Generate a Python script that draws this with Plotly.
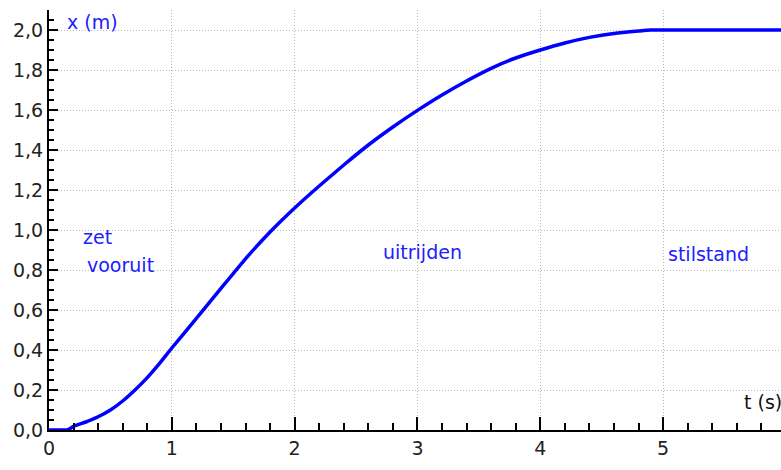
import plotly.graph_objects as go

# Data
t_values = [0, 0.1, 0.15, 0.2, 0.3, 0.4, 0.5, 0.6, 0.7, 0.8, 0.9, 1.0, 1.2, 1.4, 1.6, 1.8,
            2.0, 2.2, 2.4, 2.6, 2.8, 3.0, 3.2, 3.4, 3.6, 3.8, 4.0, 4.2, 4.4, 4.6, 4.8,
            4.9, 5.0, 5.5, 6.0]
x_values = [0, 0, 0, 0.018, 0.04, 0.066, 0.10, 0.145, 0.20, 0.262, 0.333, 0.41, 0.558, 0.708,
            0.856, 0.99, 1.11, 1.22, 1.325, 1.425, 1.515, 1.598, 1.675, 1.745, 1.808, 1.86,
            1.90, 1.935, 1.963, 1.983, 1.995, 2.0, 2.0, 2.0, 2.0]

y_tickvals = [0.0, 0.2, 0.4, 0.6, 0.8, 1.0, 1.2, 1.4, 1.6, 1.8, 2.0]
y_ticktext = ["0,0", "0,2", "0,4", "0,6", "0,8", "1,0", "1,2", "1,4", "1,6", "1,8", "2,0"]
x_tickvals = [0, 1, 2, 3, 4, 5]
x_ticktext = ["0", "1", "2", "3", "4", "5"]

labels = [
    ("x (m)", 0.13, 2.04, "#2020ff"),
    ("zet", 0.26, 0.965, "#2020ff"),
    ("vooruit", 0.293, 0.825, "#2020ff"),
    ("uitrijden", 2.70, 0.89, "#2020ff"),
    ("stilstand", 5.02, 0.88, "#2020ff"),
    ("t (s)", 5.64, 0.14, "#111111"),
]

FONT = "DejaVu Sans"

fig = go.Figure()
fig.add_trace(go.Scatter(
    x=t_values, y=x_values, mode="lines",
    line=dict(color="#0000ff", width=3.5, shape="spline", smoothing=0.5),
    hoverinfo="skip", showlegend=False,
))

for text, tx, ty, col in labels:
    fig.add_annotation(
        x=tx, y=ty, xref="x", yref="y", text=text, showarrow=False,
        xanchor="left", yanchor="middle",
        font=dict(family=FONT, size=19, color=col),
    )

fig.update_layout(
    width=781, height=470,
    margin=dict(l=49, r=0, t=10, b=40),
    paper_bgcolor="white", plot_bgcolor="white",
    showlegend=False,
    font=dict(family=FONT, size=19, color="#222222"),
)
GRID = dict(showgrid=True, gridcolor="#b8b8b8", gridwidth=1, griddash="1px,2px")
fig.update_xaxes(
    range=[0, 5.96], tickvals=x_tickvals, ticktext=x_ticktext, automargin=False,
    showline=True, linecolor="black", linewidth=2,
    ticks="inside", ticklen=13, tickwidth=2, tickcolor="black",
    zeroline=False,
    minor=dict(dtick=0.2, tick0=0, ticks="inside", ticklen=7, tickwidth=2,
               tickcolor="black", showgrid=False),
    tickfont=dict(family=FONT, size=19, color="#222222"),
    **GRID,
)
fig.update_yaxes(
    range=[0, 2.1], tickvals=y_tickvals, ticktext=y_ticktext, automargin=False,
    showline=True, linecolor="black", linewidth=2,
    ticks="inside", ticklen=9, tickwidth=2, tickcolor="black",
    zeroline=False,
    minor=dict(dtick=0.05, tick0=0, ticks="inside", ticklen=5, tickwidth=2,
               tickcolor="black", showgrid=False),
    tickfont=dict(family=FONT, size=19, color="#222222"),
    **GRID,
)

fig.write_html(
    "out.html",
    config={"displayModeBar": False, "staticPlot": True},
    post_script="document.body.style.margin='0';document.body.style.overflow='hidden';",
)
